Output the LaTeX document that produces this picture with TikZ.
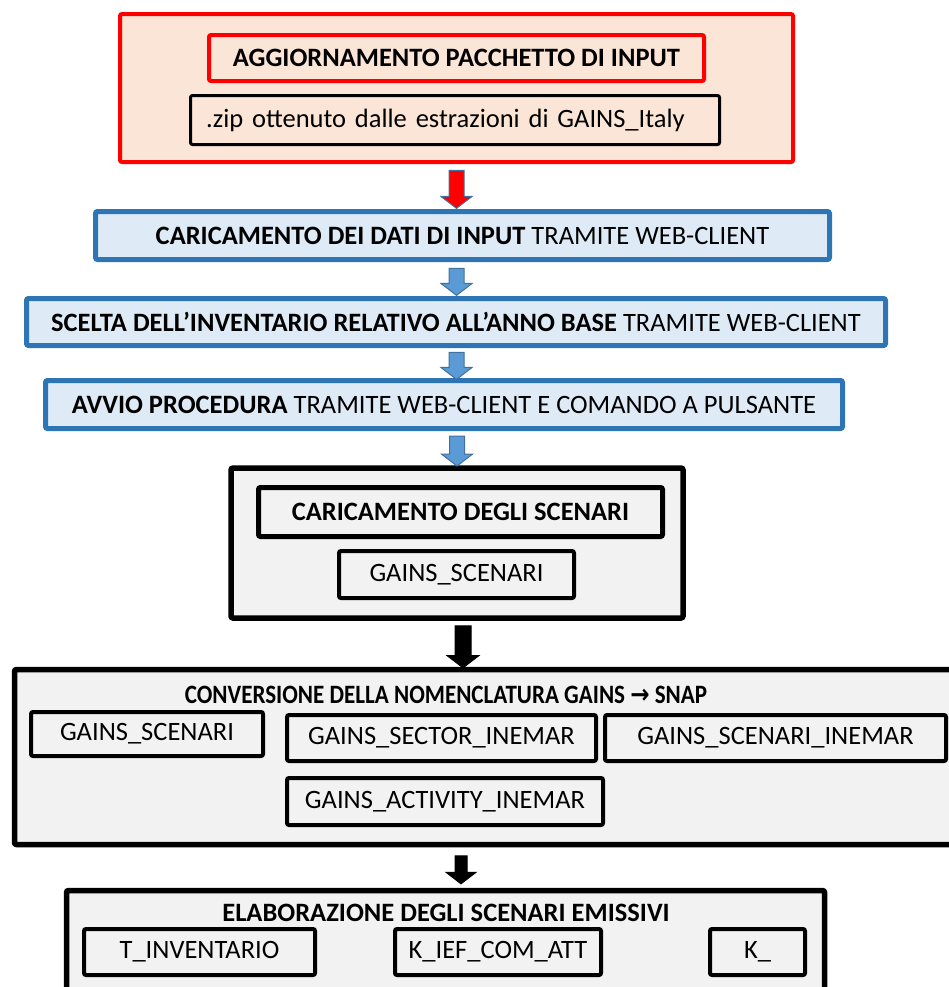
\documentclass[tikz,border=0pt]{standalone}
\usepackage{fontspec}
\setmainfont{Carlito}
\newfontfamily\arrowfont{DejaVu Sans}
\usetikzlibrary{shapes.arrows}

\definecolor{peach}{HTML}{FBE5D6}
\definecolor{boxblue}{HTML}{2E75B6}
\definecolor{lightblue}{HTML}{DEEBF7}
\definecolor{lightgray}{HTML}{F2F2F2}
\definecolor{arrowblue}{HTML}{5B9BD5}
\definecolor{arrowedge}{HTML}{41719C}

\tikzset{
  bx/.style={draw, rectangle, rounded corners=1pt, inner sep=0pt, align=center,
    font=\fontsize{13.25}{16}\selectfont},
  redframe/.style={bx, draw=red, line width=2pt, fill=peach},
  blueframe/.style={bx, draw=boxblue, line width=2.5pt, fill=lightblue},
  blackframe/.style={bx, line width=2.75pt, fill=lightgray},
  tablebox/.style={bx, line width=2pt, fill=lightgray},
  frametitle/.style={inner sep=0pt, font=\fontsize{13.25}{16}\selectfont\bfseries},
  blockarrow/.style={single arrow, shape border rotate=270, inner sep=3.5pt,
    line width=0.5pt, minimum width=15pt, single arrow head extend=4pt,
    single arrow tip angle=105},
  redarrow/.style={blockarrow, draw=arrowedge, fill=red, minimum height=19pt},
  bluearrow/.style={blockarrow, draw=arrowedge, fill=arrowblue, minimum height=13.5pt},
  blackarrow/.style={blockarrow, draw=black, fill=black, minimum height=21pt}
}

\begin{document}
\begin{tikzpicture}[x=0.5pt, y=-0.5pt]

\clip (0,0) rectangle (949,987);

 %% ***Input package***
\node[redframe, minimum width=336.5pt, minimum height=74pt] (pack) at (456.5, 88) {};
\node[redframe, minimum width=247.5pt, minimum height=23pt, font=\fontsize{13.25}{16}\selectfont\bfseries] (packtitle) at (456.5, 58) {AGGIORNAMENTO PACCHETTO DI INPUT};
\node[bx, line width=1.5pt, fill=peach, minimum width=264.5pt, minimum height=24.5pt, text width=249pt, align=left] (zip) at (455, 120) {.zip ottenuto dalle estrazioni di GAINS\_Italy};

 %% ***Web-client steps***
\node[blueframe, minimum width=367pt, minimum height=24pt] (load) at (462.5, 235.5) {\textbf{CARICAMENTO DEI DATI DI INPUT} TRAMITE WEB-CLIENT};
\node[blueframe, minimum width=429.5pt, minimum height=23.5pt] (choose) at (456, 322) {\textbf{SCELTA DELL’INVENTARIO RELATIVO ALL’ANNO BASE} TRAMITE WEB-CLIENT};
\node[blueframe, minimum width=398.5pt, minimum height=24pt] (start) at (444, 404.5) {\textbf{AVVIO PROCEDURA} TRAMITE WEB-CLIENT E COMANDO A PULSANTE};

 %% ***Scenarios loading***
\node[blackframe, minimum width=226pt, minimum height=75pt] (scen) at (457, 543) {};
\node[bx, line width=2.5pt, fill=lightgray, minimum width=202pt, minimum height=24.5pt, font=\fontsize{13.25}{16}\selectfont\bfseries] (scentitle) at (460.5, 512) {CARICAMENTO DEGLI SCENARI};
\node[tablebox, minimum width=117.5pt, minimum height=23.5pt] (scentab) at (456.5, 574.5) {GAINS\_SCENARI};

 %% ***Nomenclature conversion***
\node[blackframe, minimum width=474pt, minimum height=87.5pt] (conv) at (488.5, 757) {};
\node[frametitle] (convtitle) at (446, 695) {\scalebox{0.87}[1]{CONVERSIONE DELLA NOMENCLATURA GAINS {\arrowfont →} SNAP}};
\node[tablebox, minimum width=116pt, minimum height=22pt] (convscen) at (147, 734) {GAINS\_SCENARI};
\node[tablebox, minimum width=154.5pt, minimum height=23pt] (convsector) at (441.5, 738) {GAINS\_SECTOR\_INEMAR};
\node[tablebox, minimum width=170.5pt, minimum height=23pt] (convscenin) at (775.5, 738) {GAINS\_SCENARI\_INEMAR};
\node[tablebox, minimum width=158pt, minimum height=23.5pt] (convact) at (445, 801.5) {GAINS\_ACTIVITY\_INEMAR};

 %% ***Emission scenarios***
\node[blackframe, minimum width=379pt, minimum height=58.5pt] (elab) at (445.5, 949) {};
\node[frametitle] (elabtitle) at (446, 913) {ELABORAZIONE DEGLI SCENARI EMISSIVI};
\node[tablebox, minimum width=115.5pt, minimum height=23pt] (elabinv) at (199.5, 952) {T\_INVENTARIO};
\node[tablebox, minimum width=103pt, minimum height=23pt] (elabief) at (498, 952) {K\_IEF\_COM\_ATT};
\node[tablebox, minimum width=47.5pt, minimum height=23pt] (elabk) at (757.5, 952) {K\_};

 %% ***Block arrows***
\path (pack.south) -- node[redarrow] (a1) {} (load.north -| pack.south);
\path (load.south -| pack.south) -- node[bluearrow] (a2) {} (choose.north -| pack.south);
\path (choose.south -| pack.south) -- node[bluearrow] (a3) {} (start.north -| pack.south);
\path (start.south -| scen.north) -- node[bluearrow, minimum height=15pt] (a4) {} (scen.north);
\path (scen.south) -- node[blackarrow, xshift=3pt, inner sep=3.75pt, minimum width=15.5pt] (a5) {} (conv.north -| scen.south);
\path (conv.south -| scen.south) -- node[blackarrow, xshift=2pt, inner sep=2.75pt, minimum height=14pt, minimum width=14.5pt, single arrow head extend=4.5pt] (a6) {} (elab.north -| scen.south);

\end{tikzpicture}
\end{document}
